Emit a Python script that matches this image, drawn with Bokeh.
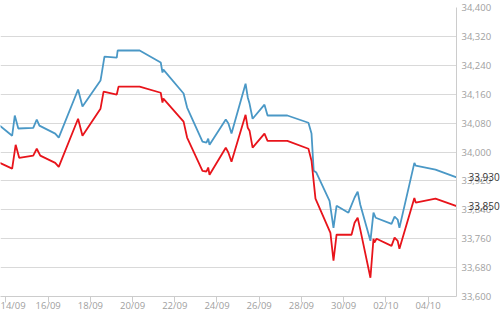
import pandas as pd
from bokeh.plotting import figure
from bokeh.models import FixedTicker, DatetimeTickFormatter, NumeralTickFormatter, Range1d, LinearAxis
from bokeh.embed import file_html
from bokeh.resources import INLINE

blue_dates = ["2015-09-13 17:00", "2015-09-14 07:00", "2015-09-14 10:00", "2015-09-14 14:00",
              "2015-09-15 07:00", "2015-09-15 11:00", "2015-09-15 14:00", "2015-09-16 08:00",
              "2015-09-16 12:00", "2015-09-17 10:00", "2015-09-17 15:00", "2015-09-18 11:30",
              "2015-09-18 12:30", "2015-09-18 16:00", "2015-09-19 06:00", "2015-09-19 07:00",
              "2015-09-20 08:00", "2015-09-21 08:00", "2015-09-21 10:00", "2015-09-21 11:00",
              "2015-09-22 10:00", "2015-09-22 14:00", "2015-09-23 07:30", "2015-09-23 12:00",
              "2015-09-23 14:00", "2015-09-23 15:30", "2015-09-24 10:00", "2015-09-24 13:00",
              "2015-09-24 16:30", "2015-09-25 08:30", "2015-09-25 11:00", "2015-09-25 13:00",
              "2015-09-25 16:30", "2015-09-26 06:00", "2015-09-26 09:30", "2015-09-27 08:00",
              "2015-09-28 08:00", "2015-09-28 11:30", "2015-09-28 14:00", "2015-09-28 17:00",
              "2015-09-29 08:00", "2015-09-29 12:30", "2015-09-29 16:00", "2015-09-30 05:30",
              "2015-09-30 12:30", "2015-09-30 16:00", "2015-09-30 19:00", "2015-10-01 06:30",
              "2015-10-01 10:00", "2015-10-01 12:30", "2015-10-02 06:30", "2015-10-02 10:00",
              "2015-10-02 13:30", "2015-10-02 15:30", "2015-10-03 08:30", "2015-10-03 10:00",
              "2015-10-04 08:30", "2015-10-05 08:30"]
blue_values = [34073, 34045, 34101, 34065, 34067, 34090, 34073, 34051, 34040, 34173,
               34126, 34198, 34212, 34264, 34261, 34281, 34281, 34248, 34220, 34228,
               34162, 34123, 34029, 34026, 34037, 34020, 34090, 34079, 34051, 34189,
               34151, 34134, 34092, 34131, 34101, 34101, 34081, 34051, 33948, 33943,
               33865, 33790, 33851, 33832, 33874, 33890, 33854, 33754, 33832, 33818,
               33801, 33821, 33813, 33790, 33970, 33962, 33951, 33930]

red_dates = ["2015-09-13 17:00", "2015-09-14 07:00", "2015-09-14 11:00", "2015-09-14 15:00",
             "2015-09-15 07:00", "2015-09-15 11:00", "2015-09-15 15:00", "2015-09-16 08:00",
             "2015-09-16 12:00", "2015-09-17 10:00", "2015-09-17 15:00", "2015-09-18 11:30",
             "2015-09-18 15:00", "2015-09-19 06:00", "2015-09-19 08:00", "2015-09-20 08:00",
             "2015-09-21 08:00", "2015-09-21 10:00", "2015-09-21 11:00", "2015-09-22 10:00",
             "2015-09-22 14:00", "2015-09-23 07:30", "2015-09-23 12:00", "2015-09-23 14:00",
             "2015-09-23 15:30", "2015-09-24 10:00", "2015-09-24 13:00", "2015-09-24 16:30",
             "2015-09-25 08:30", "2015-09-25 11:00", "2015-09-25 13:00", "2015-09-25 16:30",
             "2015-09-26 06:00", "2015-09-26 09:30", "2015-09-27 08:00", "2015-09-28 08:00",
             "2015-09-28 11:30", "2015-09-28 16:00", "2015-09-29 09:00", "2015-09-29 12:30",
             "2015-09-29 16:00", "2015-09-30 09:00", "2015-09-30 12:30", "2015-09-30 16:00",
             "2015-09-30 19:00", "2015-10-01 06:30", "2015-10-01 10:00", "2015-10-01 11:00",
             "2015-10-01 13:30", "2015-10-02 06:30", "2015-10-02 10:00", "2015-10-02 13:30",
             "2015-10-02 15:30", "2015-10-03 08:30", "2015-10-03 10:00", "2015-10-04 08:30",
             "2015-10-05 08:30"]
red_values = [33970, 33954, 34020, 33984, 33990, 34009, 33990, 33970, 33959, 34092,
              34045, 34120, 34167, 34159, 34181, 34181, 34164, 34137, 34148, 34084,
              34040, 33948, 33946, 33957, 33937, 34012, 33998, 33973, 34103, 34067,
              34059, 34012, 34051, 34031, 34031, 34009, 33976, 33871, 33776, 33699,
              33771, 33771, 33804, 33818, 33785, 33652, 33760, 33749, 33760, 33740,
              33763, 33754, 33732, 33873, 33860, 33871, 33850]

tick_dates = ["2015-09-14", "2015-09-16", "2015-09-18", "2015-09-20", "2015-09-22", "2015-09-24",
              "2015-09-26", "2015-09-28", "2015-09-30", "2015-10-02", "2015-10-04"]
y_ticks = [33600, 33680, 33760, 33840, 33920, 34000, 34080, 34160, 34240, 34320, 34400]
last_values = [blue_values[-1], red_values[-1]]

bx = pd.to_datetime(blue_dates)
rx = pd.to_datetime(red_dates)

def ms(ts):
    return pd.Timestamp(ts).value / 1e6

x_start = ms("2015-09-13 17:45")
x_end = ms("2015-10-05 08:25")

p = figure(frame_width=456, frame_height=289, x_axis_type="datetime",
           x_range=Range1d(x_start, x_end), y_range=Range1d(33600, 34400),
           output_backend="svg", toolbar_location=None, y_axis_location="right",
           min_border_left=0, min_border_top=7, min_border_right=44, min_border_bottom=16)
p.outline_line_color = None
p.background_fill_color = "white"
p.border_fill_color = "white"

p.line(bx, blue_values, line_color="#4a98c6", line_width=1.8)
p.line(rx, red_values, line_color="#e8141b", line_width=1.8)

xa = p.xaxis[0]
xa.ticker = FixedTicker(ticks=[ms(t) for t in tick_dates])
xa.formatter = DatetimeTickFormatter(days="%d/%m", months="%d/%m", hours="%d/%m")
xa.axis_line_color = "#cccccc"
xa.major_tick_line_color = "#cccccc"
xa.major_tick_out = 6
xa.major_tick_in = 0
xa.minor_tick_line_color = None
xa.major_label_standoff = -4
xa.major_label_text_color = "#a0a0a0"
xa.major_label_text_font = "Open Sans"
xa.major_label_text_font_size = "9.5px"

ya = p.yaxis[0]
ya.ticker = FixedTicker(ticks=y_ticks)
ya.formatter = NumeralTickFormatter(format="0,0")
ya.axis_line_color = "#cccccc"
ya.major_tick_line_color = None
ya.major_tick_out = 0
ya.major_tick_in = 0
ya.minor_tick_line_color = None
ya.major_label_standoff = 5
ya.major_label_text_color = "#a0a0a0"
ya.major_label_text_font = "Open Sans"
ya.major_label_text_font_size = "9.5px"

# last-value labels, drawn by a second right axis pulled back over the first
va = LinearAxis(ticker=FixedTicker(ticks=last_values),
                formatter=NumeralTickFormatter(format="0,0"))
va.axis_line_color = None
va.major_tick_line_color = None
va.major_tick_out = 0
va.major_tick_in = 0
va.minor_tick_line_color = None
va.major_label_standoff = -26
va.major_label_text_color = "#333333"
va.major_label_text_font = "Open Sans"
va.major_label_text_font_size = "10px"
p.add_layout(va, "right")

p.xgrid.grid_line_color = None
p.ygrid.grid_line_color = "#d9d9d9"
p.ygrid.grid_line_width = 1
p.ygrid.ticker = FixedTicker(ticks=y_ticks)

open("out.html", "w").write(file_html(p, INLINE))
